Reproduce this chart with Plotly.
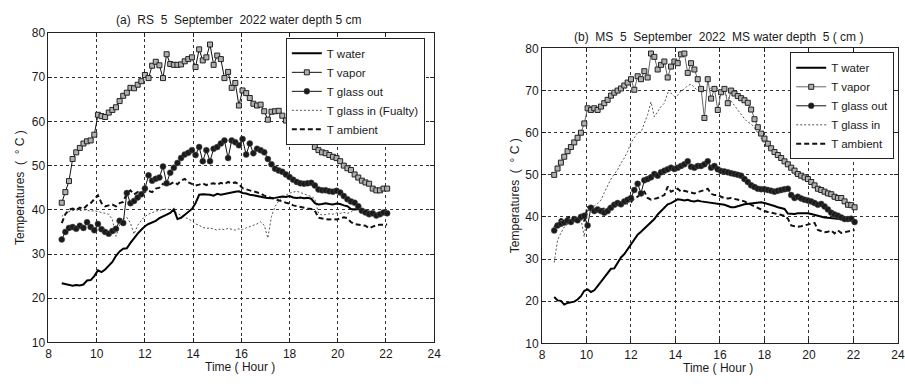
import plotly.graph_objects as go

# ---------------- data ----------------
hours = [8.55, 8.70, 8.85, 9.00, 9.15, 9.30, 9.45, 9.60, 9.75, 9.90,
         10.05, 10.20, 10.35, 10.50, 10.65, 10.80, 10.95, 11.10, 11.25, 11.40,
         11.55, 11.70, 11.85, 12.00, 12.15, 12.30, 12.45, 12.60, 12.75, 12.90,
         13.05, 13.20, 13.35, 13.50, 13.65, 13.80, 13.95, 14.10, 14.25, 14.40,
         14.55, 14.70, 14.85, 15.00, 15.15, 15.30, 15.45, 15.60, 15.75, 15.90,
         16.05, 16.20, 16.35, 16.50, 16.65, 16.80, 16.95, 17.10, 17.25, 17.40,
         17.55, 17.70, 17.85, 18.00, 18.15, 18.30, 18.45, 18.60, 18.75, 18.90,
         19.05, 19.20, 19.35, 19.50, 19.65, 19.80, 19.95, 20.10, 20.25, 20.40,
         20.55, 20.70, 20.85, 21.00, 21.15, 21.30, 21.45, 21.60, 21.75, 21.90,
         22.05]

# (a) RS
rs_water = [23.4, 23.2, 23.0, 22.8, 23.0, 22.9, 23.1, 24.0, 24.1, 25.0,
            26.3, 25.9, 26.5, 27.3, 28.2, 29.6, 30.6, 31.2, 31.3, 32.5,
            33.6, 34.6, 35.5, 36.3, 36.8, 37.2, 37.5, 38.1, 38.5, 38.9,
            39.3, 40.1, 37.9, 38.2, 38.8, 39.4, 40.2, 41.5, 43.4, 43.5,
            43.5, 43.4, 43.2, 43.6, 43.4, 43.6, 43.8, 43.9, 44.1, 44.2,
            43.8, 43.7, 43.4, 43.3, 43.1, 42.9, 42.8, 42.7, 42.6, 42.7,
            42.9, 43.0, 42.9, 43.1, 42.8, 42.7, 42.8, 42.6, 42.7, 42.5,
            41.5, 41.2, 41.3, 41.5, 41.3, 41.2, 41.4, 41.3, 41.0, 40.8,
            40.2, 40.1, 40.2, 40.0, 39.8, 39.6, 39.4, 39.0, 39.2, 39.3,
            39.4]
rs_vapor = [41.6, 44.0, 46.5, 51.5, 53.0, 54.0, 55.0, 55.5, 55.7, 57.0,
            61.5, 61.2, 61.0, 62.0, 62.6, 63.2, 64.6, 65.8, 66.5, 67.6,
            67.5, 68.3, 69.1, 70.5, 69.8, 72.6, 73.5, 72.7, 69.8, 75.2,
            73.0, 72.8, 72.8, 72.9, 73.6, 74.1, 74.5, 72.3, 76.3, 73.8,
            74.5, 77.4, 72.8, 74.9, 74.1, 69.8, 71.2, 67.6, 68.7, 63.6,
            67.0, 66.4, 65.3, 64.0, 63.6, 63.8, 62.3, 60.4, 62.2, 62.3,
            62.4, 61.3, 60.2, 59.5, 58.6, 57.8, 56.8, 56.2, 56.0, 55.6,
            54.2, 53.5, 53.0, 52.8, 52.4, 52.0, 51.7, 51.0, 50.0, 49.4,
            49.0, 48.0, 47.3, 46.6, 46.2, 45.9, 44.8, 44.4, 44.4, 44.8,
            44.8]
rs_glass_out = [33.3, 35.0, 35.9, 36.1, 35.7, 36.4, 35.9, 37.2, 36.1, 35.4,
                36.8, 35.6, 35.0, 34.6, 35.2, 35.7, 37.5, 37.0, 43.8, 41.5,
                42.0, 42.8, 43.5, 44.8, 47.8, 46.6, 47.0, 47.3, 49.8, 46.0,
                48.4, 49.5, 50.6, 51.7, 52.5, 52.9, 53.5, 52.4, 54.2, 51.0,
                53.5, 51.0, 53.8, 54.2, 55.0, 55.7, 51.7, 55.7, 55.3, 54.6,
                56.0, 52.5, 55.0, 52.8, 53.8, 53.5, 53.0, 51.5, 50.3, 49.3,
                48.9, 48.6, 48.0, 47.4, 46.8, 46.3, 46.0, 45.9, 46.0, 46.1,
                45.5, 44.6, 44.4, 44.4, 44.2, 44.1, 44.3, 43.9, 43.1, 42.4,
                41.9, 41.6, 40.8, 39.8, 39.4, 39.0, 39.2, 38.7, 39.0, 39.4,
                39.2]
rs_glass_in = [38.5, 39.2, 39.6, 39.8, 40.0, 39.8, 40.0, 39.9, 39.7, 39.8,
               39.6, 39.5, 39.3, 39.0, 37.8, 34.0, 36.5, 38.0, 38.3, 37.0,
               34.5, 36.5, 37.6, 38.5, 39.0, 39.4, 39.7, 39.9, 40.0, 40.2,
               40.0, 39.6, 39.2, 38.8, 38.4, 38.0, 37.5, 36.8, 36.5, 36.0,
               35.8, 35.9, 35.6, 35.4, 35.7, 35.5, 35.8, 35.6, 35.4, 35.7,
               35.5, 35.9, 36.2, 36.5, 36.8, 37.3, 36.5, 33.6, 38.5, 40.8,
               42.0, 42.8, 43.4, 43.8, 44.0, 44.2, 43.9, 43.6, 43.3, 43.0,
               42.5, 39.2, 38.8, 38.9, 39.1, 39.0, 39.3, 39.2, 39.4, 39.2,
               39.5, 40.2, 40.3, 40.0, 39.6, 39.3, 39.0, 38.8, 38.9, 39.0,
               39.1]
rs_ambient = [37.0, 39.0, 40.0, 40.3, 40.0, 40.5, 40.2, 41.0, 41.5, 42.3,
              43.3, 41.5, 40.8, 41.0, 41.2, 40.8, 41.5, 41.8, 43.7, 44.4,
              43.5, 44.0, 43.8, 44.1, 44.3, 44.0, 44.8, 45.0, 45.9, 45.5,
              45.8, 46.3, 45.8, 46.6, 47.0, 46.2, 45.9, 45.5, 45.7, 46.0,
              45.6, 45.9, 46.0, 45.7, 46.1, 45.8, 46.3, 46.0, 46.2, 45.8,
              44.9, 44.6, 44.4, 44.2, 43.9, 43.7, 43.2, 43.0, 42.7, 42.4,
              42.2, 41.9, 41.6, 41.4, 41.0, 40.8, 40.6, 40.5, 40.3, 40.2,
              39.8, 38.2, 38.0, 37.9, 37.8, 37.9, 37.8, 38.0, 38.3, 38.1,
              37.2, 36.8, 36.6, 36.5, 36.4, 35.8, 36.2, 36.5, 36.6, 36.6,
              36.7]

# (b) MS
ms_water = [21.0, 20.2, 20.1, 19.2, 19.6, 19.8, 19.9, 20.4, 21.2, 22.5,
            22.8, 22.2, 22.6, 23.6, 24.7, 25.7, 26.8, 27.7, 27.8, 29.2,
            30.4, 31.2, 32.3, 33.5, 34.6, 35.8, 36.5, 37.3, 38.0, 38.8,
            39.5, 40.6, 41.4, 42.2, 43.0, 43.3, 43.7, 44.2, 44.1, 43.9,
            44.1, 43.8, 43.7, 43.9, 43.7, 43.6, 43.5, 43.4, 43.3, 43.2,
            43.1, 42.9, 42.6, 42.3, 42.3, 42.6, 42.8, 43.0, 43.1, 43.3,
            43.4, 43.5, 43.5, 43.3, 43.1, 42.8, 42.6, 42.3, 42.1, 41.9,
            40.8, 40.7, 40.7, 40.9, 40.9, 41.0, 40.9, 40.7, 40.5, 40.2,
            40.0, 39.9, 39.8, 39.7, 39.6, 39.5, 39.4, 39.3, 39.2, 39.2,
            39.2]
ms_vapor = [50.0, 51.5, 52.9, 54.3, 55.6, 56.6, 57.7, 58.8, 60.0, 62.2,
            65.8, 65.4, 65.8, 65.4, 66.2, 67.0, 67.8, 68.8, 69.5, 70.0,
            70.5, 71.2, 71.9, 72.7, 70.2, 73.4, 72.7, 74.6, 73.1, 78.8,
            78.0, 75.0, 76.1, 76.9, 73.1, 75.7, 76.9, 76.5, 78.6, 78.8,
            74.2, 76.5, 75.0, 72.7, 70.4, 63.5, 72.7, 68.1, 70.4, 65.4,
            69.6, 70.4, 67.0, 70.0, 69.3, 68.7, 68.2, 67.7, 67.1, 65.5,
            63.2, 61.3, 59.8, 58.6, 57.4, 56.3, 55.4, 54.7, 54.0, 53.2,
            52.5, 51.7, 51.0, 50.2, 49.8, 49.4, 49.0, 48.3, 47.5, 46.7,
            46.4, 46.0, 45.6, 45.4, 44.8, 44.5, 44.5, 43.7, 42.9, 42.8,
            42.3]
ms_glass_out = [36.8, 38.0, 38.4, 38.7, 39.1, 38.8, 39.5, 39.2, 40.0, 40.3,
                38.0, 42.2, 41.4, 41.8, 41.4, 41.0, 41.4, 42.2, 42.9, 43.3,
                43.0, 43.7, 44.1, 44.5, 46.4, 47.9, 45.6, 48.7, 49.0, 49.4,
                50.2, 49.8, 50.6, 51.0, 51.3, 51.7, 51.4, 51.7, 52.1, 52.5,
                53.2, 51.9, 51.7, 52.1, 52.1, 52.5, 53.2, 51.7, 52.1, 51.3,
                50.9, 50.8, 50.6, 50.4, 50.2, 50.0, 49.8, 49.0, 48.3, 47.5,
                47.1, 46.7, 46.6, 46.6, 46.4, 46.2, 46.0, 46.2, 46.4, 46.6,
                46.7, 45.2, 44.5, 44.8, 44.4, 44.1, 43.9, 43.7, 43.3, 42.9,
                43.1, 42.5, 41.8, 41.0, 40.6, 40.3, 39.9, 39.5, 39.5, 39.6,
                38.8]
ms_glass_in = [29.2, 34.5, 36.2, 37.6, 38.2, 38.6, 39.2, 39.4, 39.5, 35.3,
               41.3, 42.2, 42.6, 43.2, 44.0, 45.8, 47.4, 49.0, 50.2, 51.2,
               52.8, 54.0, 55.6, 57.6, 58.8, 60.1, 60.1, 62.0, 64.3, 67.3,
               63.8, 65.0, 66.2, 67.0, 69.5, 69.4, 68.6, 68.9, 69.9, 70.4,
               71.2, 71.5, 70.8, 70.0, 69.6, 69.8, 70.2, 70.6, 71.0, 70.5,
               69.8, 69.2, 68.6, 67.5, 66.4, 65.3, 64.3, 63.3, 62.5, 62.1,
               61.2, 59.9, 58.4, 57.4, 56.8, 56.0, 55.1, 54.4, 53.7, 52.9,
               52.2, 51.4, 50.7, 49.9, 49.5, 49.1, 48.7, 48.0, 47.2, 46.4,
               46.1, 45.7, 45.3, 45.1, 44.5, 44.2, 44.2, 43.4, 42.6, 42.5,
               42.0]
ms_ambient = [37.5, 38.8, 39.5, 39.3, 39.8, 40.2, 39.6, 40.0, 40.5, 39.0,
              42.5, 41.4, 41.6, 41.2, 41.8, 42.0, 42.2, 42.4, 42.6, 42.8,
              43.0, 43.3, 43.2, 43.5, 44.5, 44.8, 45.6, 46.0, 44.5, 44.1,
              44.3, 44.5, 44.9, 45.2, 47.2, 46.0, 46.4, 46.7, 46.0, 46.2,
              46.0, 45.8, 45.6, 45.9, 46.1, 46.4, 46.7, 45.5, 45.2, 45.2,
              44.8, 44.5, 44.4, 44.5, 44.3, 44.1, 43.9, 43.7, 43.3, 42.9,
              42.6, 42.2, 41.8, 41.4, 41.2, 41.0, 40.8, 40.6, 40.4, 40.3,
              39.6, 38.0, 37.8, 37.7, 37.8, 38.0, 38.2, 38.4, 38.6, 36.9,
              36.6, 36.4, 36.5, 36.8, 36.1, 36.8, 36.2, 36.4, 36.6, 36.8,
              36.9]

x_ticks = [8, 10, 12, 14, 16, 18, 20, 22, 24]
y_ticks = [10, 20, 30, 40, 50, 60, 70, 80]

# ---------------- figure ----------------
W, H = 905, 387
FONT = "Liberation Sans, Arial, Helvetica, sans-serif"
TXT = "#1a1a1a"

fig = go.Figure()


def add_set(xa, ya, leg, water, vapor, gout, gin, amb, gin_name, vapor_line):
    fig.add_trace(go.Scatter(x=hours, y=gin, name=gin_name, mode="lines",
                             line=dict(color="#555555", width=1, dash="2px,2px"),
                             xaxis=xa, yaxis=ya, legend=leg, legendrank=4))
    fig.add_trace(go.Scatter(x=hours, y=amb, name="T ambient", mode="lines",
                             line=dict(color="#111111", width=2, dash="5px,3px"),
                             xaxis=xa, yaxis=ya, legend=leg, legendrank=5))
    fig.add_trace(go.Scatter(x=hours, y=water, name="T water", mode="lines",
                             line=dict(color="#000000", width=2),
                             xaxis=xa, yaxis=ya, legend=leg, legendrank=1))
    fig.add_trace(go.Scatter(x=hours, y=gout, name="T glass out", mode="lines+markers",
                             line=dict(color="#111111", width=1),
                             marker=dict(symbol="circle", size=6, color="#1a1a1a",
                                         line=dict(color="#555555", width=0.5)),
                             xaxis=xa, yaxis=ya, legend=leg, legendrank=3))
    fig.add_trace(go.Scatter(x=hours, y=vapor, name="T vapor", mode="lines+markers",
                             line=dict(color=vapor_line, width=1),
                             marker=dict(symbol="square", size=5, color="#b0b0b0",
                                         line=dict(color="#222222", width=1)),
                             xaxis=xa, yaxis=ya, legend=leg, legendrank=2))


add_set("x", "y", "legend", rs_water, rs_vapor, rs_glass_out, rs_glass_in, rs_ambient,
        "T glass in (Fualty)", "#111111")
add_set("x2", "y2", "legend2", ms_water, ms_vapor, ms_glass_out, ms_glass_in, ms_ambient,
        "T glass in", "#666666")

axis_common = dict(
    showline=True, linecolor="#222222", linewidth=1, mirror="ticks",
    ticks="inside", ticklen=4, tickcolor="#222222",
    showgrid=True, gridcolor="#333333", gridwidth=1, griddash="3px,3px",
    zeroline=False, tickfont=dict(family=FONT, size=12, color=TXT),
)


def px_x(p):
    return p / W


def px_y(p):
    return 1 - p / H


fig.update_layout(
    width=W, height=H, autosize=False,
    margin=dict(l=0, r=0, t=0, b=0),
    paper_bgcolor="white", plot_bgcolor="white",
    font=dict(family=FONT, size=12, color=TXT),
    xaxis=dict(domain=[px_x(46), px_x(436)], range=[8, 24], tickvals=x_ticks,
               anchor="y", **axis_common),
    yaxis=dict(domain=[px_y(348), px_y(27)], range=[10, 80], tickvals=y_ticks,
               anchor="x", **axis_common),
    xaxis2=dict(domain=[px_x(545), 1.0], range=[8, 24], tickvals=x_ticks,
                anchor="y2", **axis_common),
    yaxis2=dict(domain=[px_y(349), px_y(43)], range=[10, 80], tickvals=y_ticks,
                anchor="x2", **axis_common),
    legend=dict(x=px_x(286), y=px_y(32), xanchor="left", yanchor="top",
                bgcolor="white", bordercolor="#222222", borderwidth=1,
                font=dict(family=FONT, size=11.5, color=TXT),
                tracegroupgap=0, itemwidth=30),
    legend2=dict(x=px_x(796), y=px_y(47), xanchor="left", yanchor="top",
                 bgcolor="white", bordercolor="#222222", borderwidth=1,
                 font=dict(family=FONT, size=11.5, color=TXT),
                 tracegroupgap=0, itemwidth=30),
    showlegend=True,
)

NB = "\u00a0"
ann = [
    dict(text=f"(a){NB} RS{NB} 5{NB} September{NB} 2022 water depth 5 cm",
         x=px_x(238), y=px_y(13), textangle=0),
    dict(text=f"(b){NB} MS{NB} 5{NB} September{NB} 2022{NB} MS water depth{NB} 5 ( cm )",
         x=px_x(723), y=px_y(31), textangle=0),
    dict(text=f"Temperatures{NB} ({NB} ° C )", x=px_x(17), y=px_y(187), textangle=-90),
    dict(text=f"Temperatures{NB} ({NB} ° C )", x=px_x(518), y=px_y(196), textangle=-90),
    dict(text="Time ( Hour )", x=px_x(240), y=px_y(374), textangle=0),
    dict(text="Time ( Hour )", x=px_x(723), y=px_y(375), textangle=0),
]
for a in ann:
    fig.add_annotation(xref="paper", yref="paper", showarrow=False,
                       xanchor="center", yanchor="middle",
                       font=dict(family=FONT, size=12, color=TXT), **a)

fig.write_html("out.html")
